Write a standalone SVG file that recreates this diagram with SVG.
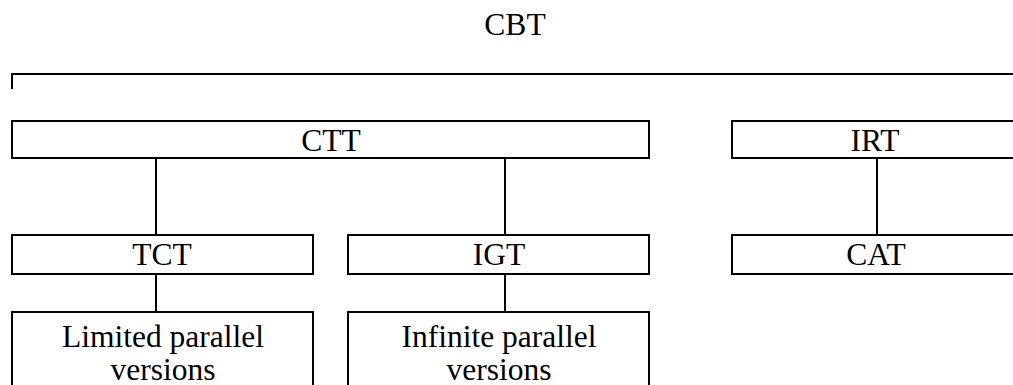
<svg xmlns="http://www.w3.org/2000/svg" width="1013" height="385" viewBox="0 0 1013 385">
<style>
.box{fill:#fff;stroke:#000;stroke-width:2}
.ln{fill:none;stroke:#000;stroke-width:2}
text{font-family:"Liberation Serif","Times New Roman",serif;font-size:31.5px;fill:#000;text-anchor:middle}
</style>
<rect width="1013" height="385" fill="#fff"/>
<g id="connectors">
<path class="ln" d="M12,89 V74 H1020"/>
<path class="ln" d="M156,158 V235 M505,158 V235 M877,158 V235 M156,274 V312 M505,274 V312"/>
</g>
<g id="cbt"><text x="515" y="35">CBT</text></g>
<g id="ctt"><rect class="box" x="12" y="121" width="637" height="37"/><text x="331" y="151">CTT</text></g>
<g id="irt"><rect class="box" x="732" y="121" width="300" height="37"/><text x="875" y="151">IRT</text></g>
<g id="tct"><rect class="box" x="12" y="235" width="301" height="39"/><text x="162" y="265">TCT</text></g>
<g id="igt"><rect class="box" x="348" y="235" width="301" height="39"/><text x="499" y="265">IGT</text></g>
<g id="cat"><rect class="box" x="732" y="235" width="300" height="39"/><text x="876" y="265">CAT</text></g>
<g id="limited"><rect class="box" x="12" y="312" width="301" height="90"/><text x="163" y="347">Limited parallel</text><text x="163" y="380">versions</text></g>
<g id="infinite"><rect class="box" x="348" y="312" width="301" height="90"/><text x="499" y="347">Infinite parallel</text><text x="499" y="380">versions</text></g>
</svg>
